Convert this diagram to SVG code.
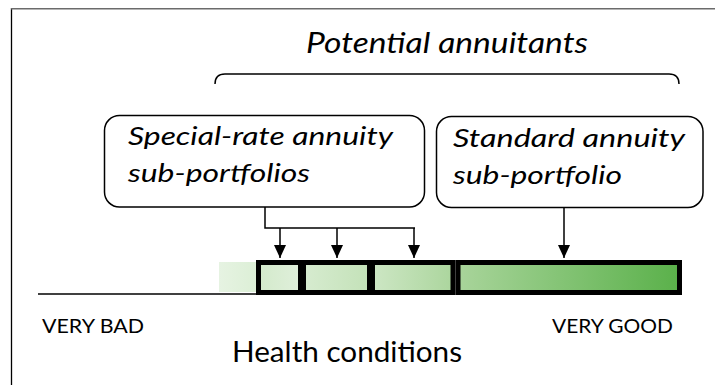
<svg xmlns="http://www.w3.org/2000/svg" width="715" height="385" viewBox="0 0 715 385">
<style>
.t{font-family:Lato,"Open Sans","Liberation Sans",sans-serif;fill:#000}
.i{font-style:italic}
.box{fill:#fff;stroke:#000;stroke-width:1.5}
.ln{fill:none;stroke:#000;stroke-width:1.5}
.seg{stroke:#000;stroke-width:5}
</style>
<defs>
<marker id="ah" markerWidth="13" markerHeight="12" refX="13" refY="6" orient="auto" markerUnits="userSpaceOnUse" viewBox="0 0 13 12">
<path d="M0,0 L13,6 L0,12 Z" fill="#000"/>
</marker>
<linearGradient id="g0" x1="219" x2="257" y1="0" y2="0" gradientUnits="userSpaceOnUse"><stop offset="0" stop-color="#e6f3e2"/><stop offset="1" stop-color="#dcefd6"/></linearGradient>
<linearGradient id="g1" x1="261" x2="298" y1="0" y2="0" gradientUnits="userSpaceOnUse"><stop offset="0" stop-color="#d4eacc"/><stop offset="1" stop-color="#dfefda"/></linearGradient>
<linearGradient id="g2" x1="306" x2="367" y1="0" y2="0" gradientUnits="userSpaceOnUse"><stop offset="0" stop-color="#d6ebcf"/><stop offset="1" stop-color="#c4e2b9"/></linearGradient>
<linearGradient id="g3" x1="375" x2="451" y1="0" y2="0" gradientUnits="userSpaceOnUse"><stop offset="0" stop-color="#cce6c3"/><stop offset="1" stop-color="#acd69e"/></linearGradient>
<linearGradient id="g4" x1="460" x2="677" y1="0" y2="0" gradientUnits="userSpaceOnUse"><stop offset="0" stop-color="#a8d49a"/><stop offset="1" stop-color="#5bb14b"/></linearGradient>
</defs>
<g id="frame">
<line x1="11.5" y1="8" x2="11.5" y2="385" stroke="#000" stroke-width="1.3"/>
<line x1="11" y1="8.7" x2="715" y2="8.7" stroke="#6b6b6b" stroke-width="1.6"/>
</g>
<g id="title">
<text class="t i" x="447" y="53" font-size="28" text-anchor="middle" textLength="282" lengthAdjust="spacingAndGlyphs">Potential annuitants</text>
<path class="ln" d="M215,84 Q215,74 225,74 L669,74 Q679,74 679,84"/>
</g>
<g id="axis">
<line x1="38" y1="294" x2="258" y2="294" stroke="#000" stroke-width="1.5"/>
<text class="t" x="42" y="333" font-size="19" textLength="102" lengthAdjust="spacingAndGlyphs">VERY BAD</text>
<text class="t" x="552" y="333" font-size="19" textLength="121" lengthAdjust="spacingAndGlyphs">VERY GOOD</text>
<text class="t" x="232" y="362" font-size="28" textLength="230" lengthAdjust="spacingAndGlyphs">Health conditions</text>
</g>
<g id="bar">
<rect x="219" y="262" width="39" height="30" fill="url(#g0)"/>
<rect class="seg" x="258.5" y="262.5" width="42" height="30" fill="url(#g1)"/>
<rect class="seg" x="303.5" y="262.5" width="66" height="30" fill="url(#g2)"/>
<rect class="seg" x="372.5" y="262.5" width="80.5" height="30" fill="url(#g3)"/>
<rect class="seg" x="458" y="262.5" width="221.5" height="30" fill="url(#g4)"/>
</g>
<g id="special">
<rect class="box" x="104.5" y="115.5" width="320" height="91.5" rx="15"/>
<text class="t i" x="128" y="145" font-size="26" textLength="265" lengthAdjust="spacingAndGlyphs">Special-rate annuity</text>
<text class="t i" x="128" y="182" font-size="26" textLength="182" lengthAdjust="spacingAndGlyphs">sub-portfolios</text>
</g>
<g id="standard">
<rect class="box" x="436.5" y="116.5" width="266.5" height="91" rx="15"/>
<text class="t i" x="453" y="147" font-size="26" textLength="232" lengthAdjust="spacingAndGlyphs">Standard annuity</text>
<text class="t i" x="453" y="184" font-size="26" textLength="169" lengthAdjust="spacingAndGlyphs">sub-portfolio</text>
</g>
<g id="connectors">
<polyline class="ln" points="265,207 265,228 415,228"/>
<line class="ln" x1="280" y1="228" x2="280" y2="258" marker-end="url(#ah)"/>
<line class="ln" x1="337" y1="228" x2="337" y2="258" marker-end="url(#ah)"/>
<line class="ln" x1="414" y1="228" x2="414" y2="258" marker-end="url(#ah)"/>
<line class="ln" x1="564" y1="208" x2="564" y2="258" marker-end="url(#ah)"/>
</g>
</svg>
